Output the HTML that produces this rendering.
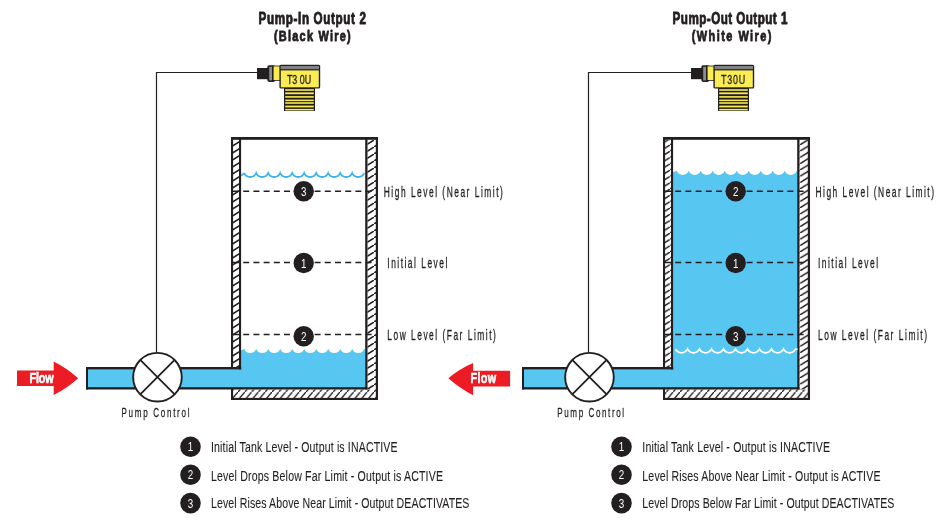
<!DOCTYPE html>
<html><head><meta charset="utf-8"><style>
html,body{margin:0;padding:0;background:#fff;width:937px;height:525px;overflow:hidden}
svg{display:block;will-change:transform;font-family:"Liberation Sans", sans-serif}
</style></head><body>
<svg width="937" height="525" viewBox="0 0 937 525">
<defs>
<pattern id="hatchL" patternUnits="userSpaceOnUse" width="11" height="7">
<path d="M-5.5,10.5 L16.5,-3.5" stroke="#231f20" stroke-width="1.5"/>
</pattern>
<pattern id="hatchR" patternUnits="userSpaceOnUse" width="10" height="6.3">
<path d="M-5,9.45 L15,-3.15" stroke="#231f20" stroke-width="1.4"/>
</pattern>
<pattern id="hatchB" patternUnits="userSpaceOnUse" width="6.8" height="8">
<path d="M-3.4,12 L10.2,-4" stroke="#231f20" stroke-width="1.4"/>
</pattern>
</defs>
<rect width="937" height="525" fill="#fff"/>
<text transform="translate(258.5,24.2) scale(0.72,1)" x="0" y="0" font-size="16.2" font-weight="bold" fill="#231f20" stroke="#231f20" stroke-width="0.9" stroke-linejoin="round" textLength="149.31" lengthAdjust="spacing">Pump-In Output 2</text>
<text transform="translate(274,41.3) scale(0.72,1)" x="0" y="0" font-size="15.2" font-weight="bold" fill="#231f20" stroke="#231f20" stroke-width="0.9" stroke-linejoin="round" textLength="106.53" lengthAdjust="spacing">(Black Wire)</text>
<path d="M257,72.5 H156.5 V352" fill="none" stroke="#231f20" stroke-width="1.2"/>
<g transform="translate(0,0)">
<rect x="284" y="88" width="31" height="23" fill="#231f20"/>
<rect x="285.2" y="89.2" width="28.6" height="1.6" fill="#faec52"/>
<rect x="285.2" y="92.4" width="28.6" height="1.8" fill="#faec52"/>
<rect x="285.2" y="96.1" width="28.6" height="1.6" fill="#faec52"/>
<rect x="285.2" y="99.6" width="28.6" height="1.5" fill="#faec52"/>
<rect x="285.2" y="102.2" width="28.6" height="1.6" fill="#faec52"/>
<rect x="285.2" y="105.6" width="28.6" height="1.8" fill="#faec52"/>
<rect x="285.2" y="108.9" width="28.6" height="1.5" fill="#faec52"/>
<rect x="257" y="68" width="11" height="11.2" fill="#231f20"/>
<rect x="267.3" y="65.3" width="8" height="16.6" rx="1.8" fill="#231f20"/>
<rect x="269.2" y="66.8" width="2.8" height="13.6" fill="#8a8c8e"/>
<rect x="272.6" y="65.6" width="9" height="15.2" fill="#231f20"/>
<rect x="273.6" y="66.4" width="6.6" height="13.6" fill="#faec52"/>
<rect x="279.4" y="64.8" width="40.8" height="23.8" rx="1.6" fill="#231f20"/>
<rect x="280.6" y="66" width="38.4" height="3.2" fill="#808285"/>
<rect x="280.8" y="70.4" width="38" height="16.9" fill="#faec52"/>
<text transform="translate(286.9,83.6) scale(0.72,1)" x="0" y="0" font-size="12.4" font-weight="normal" fill="#231f20" stroke="#231f20" stroke-width="0.3" stroke-linejoin="round" textLength="33.89" lengthAdjust="spacing">T3 0U</text>
</g>
<rect x="86" y="368" width="155" height="20.5" fill="#57c7f2"/>
<rect x="241" y="348.8" width="124.19999999999999" height="39.19999999999999" fill="#57c7f2"/>
<path d="M241,347.8 L241,350.3 A6.34,6.34 0 0 0 244.2,348.8 L244.2,348.8 A6.34,6.34 0 0 0 256.2,348.8 L256.2,348.8 A6.34,6.34 0 0 0 268.2,348.8 L268.2,348.8 A6.34,6.34 0 0 0 280.2,348.8 L280.2,348.8 A6.34,6.34 0 0 0 292.2,348.8 L292.2,348.8 A6.34,6.34 0 0 0 304.2,348.8 L304.2,348.8 A6.34,6.34 0 0 0 316.2,348.8 L316.2,348.8 A6.34,6.34 0 0 0 328.2,348.8 L328.2,348.8 A6.34,6.34 0 0 0 340.2,348.8 L340.2,348.8 A6.34,6.34 0 0 0 352.2,348.8 L352.2,348.8 A6.34,6.34 0 0 0 364.2,348.8 L364.2,348.8 A6.34,6.34 0 0 0 365.2,348.8 L365.2,347.8 Z" fill="#fff"/>
<rect x="86" y="367" width="155.2" height="2.4" fill="#231f20"/>
<rect x="86" y="387.2" width="281.5" height="2.3" fill="#231f20"/>
<rect x="86" y="367" width="2" height="22.5" fill="#231f20"/>
<rect x="233" y="140" width="6" height="227" fill="url(#hatchL)"/>
<rect x="367.5" y="140" width="8.5" height="249.5" fill="url(#hatchL)"/>
<rect x="233" y="389.5" width="143" height="8.5" fill="url(#hatchB)"/>
<rect x="231" y="137" width="147" height="2.8" fill="#231f20"/>
<rect x="231" y="137" width="2.1" height="230.5" fill="#231f20"/>
<rect x="239" y="137" width="2.1" height="232.5" fill="#231f20"/>
<rect x="365.2" y="137" width="2.3" height="252.5" fill="#231f20"/>
<rect x="375.8" y="137" width="2.2" height="263" fill="#231f20"/>
<rect x="231" y="389" width="2.1" height="11" fill="#231f20"/>
<rect x="231" y="397.9" width="147" height="2.1" fill="#231f20"/>
<path d="M244.2,173.0 A6.50,6.50 0 0 0 256.20,173.0 A6.50,6.50 0 0 0 268.20,173.0 A6.50,6.50 0 0 0 280.20,173.0 A6.50,6.50 0 0 0 292.20,173.0 A6.50,6.50 0 0 0 304.20,173.0 A6.50,6.50 0 0 0 316.20,173.0 A6.50,6.50 0 0 0 328.20,173.0 A6.50,6.50 0 0 0 340.20,173.0 A6.50,6.50 0 0 0 352.20,173.0 A6.50,6.50 0 0 0 364.20,173.0" fill="none" stroke="#3ab3ea" stroke-width="1.8"/><path d="M241,175.5 A6.8,6.8 0 0 0 244.2,173.0" fill="none" stroke="#3ab3ea" stroke-width="1.8"/>
<line x1="233" y1="191.3" x2="373" y2="191.3" stroke="#231f20" stroke-width="1.5" stroke-dasharray="6 4.2"/>
<line x1="233" y1="262.6" x2="373" y2="262.6" stroke="#231f20" stroke-width="1.5" stroke-dasharray="6 4.2"/>
<line x1="233" y1="334.4" x2="373" y2="334.4" stroke="#231f20" stroke-width="1.5" stroke-dasharray="6 4.2"/>
<circle cx="303.7" cy="191.2" r="10.2" fill="#231f20"/>
<text transform="translate(303.7,195.7) scale(0.78,1)" font-size="12.6" fill="#fff" text-anchor="middle">3</text>
<circle cx="303.7" cy="263" r="10.2" fill="#231f20"/>
<text transform="translate(303.7,267.5) scale(0.78,1)" font-size="12.6" fill="#fff" text-anchor="middle">1</text>
<circle cx="303.7" cy="336.2" r="10.2" fill="#231f20"/>
<text transform="translate(303.7,340.7) scale(0.78,1)" font-size="12.6" fill="#fff" text-anchor="middle">2</text>
<text transform="translate(383.8,196.6) scale(0.6,1)" x="0" y="0" font-size="14.0" font-weight="normal" fill="#231f20" stroke="#231f20" stroke-width="0.3" stroke-linejoin="round" textLength="198.33" lengthAdjust="spacing">High Level (Near Limit)</text>
<text transform="translate(387.3,268.1) scale(0.6,1)" x="0" y="0" font-size="14.0" font-weight="normal" fill="#231f20" stroke="#231f20" stroke-width="0.3" stroke-linejoin="round" textLength="100.00" lengthAdjust="spacing">Initial Level</text>
<text transform="translate(387.3,340) scale(0.6,1)" x="0" y="0" font-size="14.0" font-weight="normal" fill="#231f20" stroke="#231f20" stroke-width="0.3" stroke-linejoin="round" textLength="180.83" lengthAdjust="spacing">Low Level (Far Limit)</text>
<circle cx="157.45" cy="377.2" r="24.3" fill="#fff" stroke="#231f20" stroke-width="1.9"/>
<path d="M140.4796,360.2296 L174.42039999999997,394.1704 M174.42039999999997,360.2296 L140.4796,394.1704" stroke="#231f20" stroke-width="1.8"/>
<text transform="translate(121.5,416.9) scale(0.62,1)" x="0" y="0" font-size="13" font-weight="normal" fill="#231f20" stroke="#231f20" stroke-width="0.25" stroke-linejoin="round" textLength="109.68" lengthAdjust="spacing">Pump Control</text>
<path d="M17,370.5 H53.7 V361.4 Q67.1,368.15 78.2,378.2 Q67.1,388.25 53.7,395 V386 H17 Z" fill="#ed1c24"/><text transform="translate(29.6,382.6) scale(0.78,1)" x="0" y="0" font-size="13.8" font-weight="bold" fill="#fff" stroke="#fff" stroke-width="0.6" stroke-linejoin="round" textLength="30.77" lengthAdjust="spacing">Flow</text>
<text transform="translate(672.6,24.2) scale(0.72,1)" x="0" y="0" font-size="16.2" font-weight="bold" fill="#231f20" stroke="#231f20" stroke-width="0.9" stroke-linejoin="round" textLength="159.44" lengthAdjust="spacing">Pump-Out Output 1</text>
<text transform="translate(691.7,41.3) scale(0.72,1)" x="0" y="0" font-size="15.2" font-weight="bold" fill="#231f20" stroke="#231f20" stroke-width="0.9" stroke-linejoin="round" textLength="110.83" lengthAdjust="spacing">(White Wire)</text>
<path d="M691,72.5 H588.5 V352" fill="none" stroke="#231f20" stroke-width="1.2"/>
<g transform="translate(434,0)">
<rect x="284" y="88" width="31" height="23" fill="#231f20"/>
<rect x="285.2" y="89.2" width="28.6" height="1.6" fill="#faec52"/>
<rect x="285.2" y="92.4" width="28.6" height="1.8" fill="#faec52"/>
<rect x="285.2" y="96.1" width="28.6" height="1.6" fill="#faec52"/>
<rect x="285.2" y="99.6" width="28.6" height="1.5" fill="#faec52"/>
<rect x="285.2" y="102.2" width="28.6" height="1.6" fill="#faec52"/>
<rect x="285.2" y="105.6" width="28.6" height="1.8" fill="#faec52"/>
<rect x="285.2" y="108.9" width="28.6" height="1.5" fill="#faec52"/>
<rect x="257" y="68" width="11" height="11.2" fill="#231f20"/>
<rect x="267.3" y="65.3" width="8" height="16.6" rx="1.8" fill="#231f20"/>
<rect x="269.2" y="66.8" width="2.8" height="13.6" fill="#8a8c8e"/>
<rect x="272.6" y="65.6" width="9" height="15.2" fill="#231f20"/>
<rect x="273.6" y="66.4" width="6.6" height="13.6" fill="#faec52"/>
<rect x="279.4" y="64.8" width="40.8" height="23.8" rx="1.6" fill="#231f20"/>
<rect x="280.6" y="66" width="38.4" height="3.2" fill="#808285"/>
<rect x="280.8" y="70.4" width="38" height="16.9" fill="#faec52"/>
<text transform="translate(286.9,83.6) scale(0.72,1)" x="0" y="0" font-size="12.4" font-weight="normal" fill="#231f20" stroke="#231f20" stroke-width="0.3" stroke-linejoin="round" textLength="33.89" lengthAdjust="spacing">T30U</text>
</g>
<rect x="522" y="368" width="151" height="20.5" fill="#57c7f2"/>
<rect x="673" y="170.6" width="124.20000000000005" height="217.4" fill="#57c7f2"/>
<path d="M673,169.6 L673,172.1 A6.34,6.34 0 0 0 676.7,170.6 L676.7,170.6 A6.34,6.34 0 0 0 688.7,170.6 L688.7,170.6 A6.34,6.34 0 0 0 700.7,170.6 L700.7,170.6 A6.34,6.34 0 0 0 712.7,170.6 L712.7,170.6 A6.34,6.34 0 0 0 724.7,170.6 L724.7,170.6 A6.34,6.34 0 0 0 736.7,170.6 L736.7,170.6 A6.34,6.34 0 0 0 748.7,170.6 L748.7,170.6 A6.34,6.34 0 0 0 760.7,170.6 L760.7,170.6 A6.34,6.34 0 0 0 772.7,170.6 L772.7,170.6 A6.34,6.34 0 0 0 784.7,170.6 L784.7,170.6 A6.34,6.34 0 0 0 796.7,170.6 L796.7,170.6 A6.34,6.34 0 0 0 797.2,170.6 L797.2,169.6 Z" fill="#fff"/>
<rect x="522" y="367" width="151.20000000000005" height="2.4" fill="#231f20"/>
<rect x="522" y="387.2" width="277.5" height="2.3" fill="#231f20"/>
<rect x="522" y="367" width="2" height="22.5" fill="#231f20"/>
<rect x="665" y="140" width="6" height="227" fill="url(#hatchR)"/>
<rect x="799.5" y="140" width="8.5" height="249.5" fill="url(#hatchR)"/>
<rect x="665" y="389.5" width="143" height="8.5" fill="url(#hatchB)"/>
<rect x="663" y="137" width="147" height="2.8" fill="#231f20"/>
<rect x="663" y="137" width="2.1" height="230.5" fill="#231f20"/>
<rect x="671" y="137" width="2.1" height="232.5" fill="#231f20"/>
<rect x="797.2" y="137" width="2.3" height="252.5" fill="#231f20"/>
<rect x="807.8" y="137" width="2.2" height="263" fill="#231f20"/>
<rect x="663" y="389" width="2.1" height="11" fill="#231f20"/>
<rect x="663" y="397.9" width="147" height="2.1" fill="#231f20"/>
<path d="M675.5,349.2 A6.80,6.80 0 0 0 687.50,349.2 A6.80,6.80 0 0 0 699.50,349.2 A6.80,6.80 0 0 0 711.50,349.2 A6.80,6.80 0 0 0 723.50,349.2 A6.80,6.80 0 0 0 735.50,349.2 A6.80,6.80 0 0 0 747.50,349.2 A6.80,6.80 0 0 0 759.50,349.2 A6.80,6.80 0 0 0 771.50,349.2 A6.80,6.80 0 0 0 783.50,349.2 A6.80,6.80 0 0 0 795.50,349.2 A6.80,6.80 0 0 0 797.50,349.2" fill="none" stroke="#fff" stroke-width="1.8"/>
<line x1="665" y1="191.3" x2="805" y2="191.3" stroke="#231f20" stroke-width="1.5" stroke-dasharray="6 4.2"/>
<line x1="665" y1="262.6" x2="805" y2="262.6" stroke="#231f20" stroke-width="1.5" stroke-dasharray="6 4.2"/>
<line x1="665" y1="334.4" x2="805" y2="334.4" stroke="#231f20" stroke-width="1.5" stroke-dasharray="6 4.2"/>
<circle cx="735.7" cy="191.2" r="10.2" fill="#231f20"/>
<text transform="translate(735.7,195.7) scale(0.78,1)" font-size="12.6" fill="#fff" text-anchor="middle">2</text>
<circle cx="735.7" cy="263" r="10.2" fill="#231f20"/>
<text transform="translate(735.7,267.5) scale(0.78,1)" font-size="12.6" fill="#fff" text-anchor="middle">1</text>
<circle cx="735.7" cy="336.2" r="10.2" fill="#231f20"/>
<text transform="translate(735.7,340.7) scale(0.78,1)" font-size="12.6" fill="#fff" text-anchor="middle">3</text>
<text transform="translate(815.5,196.6) scale(0.6,1)" x="0" y="0" font-size="14.0" font-weight="normal" fill="#231f20" stroke="#231f20" stroke-width="0.3" stroke-linejoin="round" textLength="197.50" lengthAdjust="spacing">High Level (Near Limit)</text>
<text transform="translate(818,268.1) scale(0.6,1)" x="0" y="0" font-size="14.0" font-weight="normal" fill="#231f20" stroke="#231f20" stroke-width="0.3" stroke-linejoin="round" textLength="100.00" lengthAdjust="spacing">Initial Level</text>
<text transform="translate(818,340) scale(0.6,1)" x="0" y="0" font-size="14.0" font-weight="normal" fill="#231f20" stroke="#231f20" stroke-width="0.3" stroke-linejoin="round" textLength="181.67" lengthAdjust="spacing">Low Level (Far Limit)</text>
<circle cx="589.45" cy="377.2" r="24.3" fill="#fff" stroke="#231f20" stroke-width="1.9"/>
<path d="M572.4796,360.2296 L606.4204000000001,394.1704 M606.4204000000001,360.2296 L572.4796,394.1704" stroke="#231f20" stroke-width="1.8"/>
<text transform="translate(557.3,416.9) scale(0.62,1)" x="0" y="0" font-size="13" font-weight="normal" fill="#231f20" stroke="#231f20" stroke-width="0.25" stroke-linejoin="round" textLength="107.74" lengthAdjust="spacing">Pump Control</text>
<path d="M510.1,370.8 H473.1 V362.9 Q459.6,368.65 448.3,378.2 Q459.5,388.1 473.1,395.2 V386.5 H510.1 Z" fill="#ed1c24"/><text transform="translate(470.4,382.6) scale(0.78,1)" x="0" y="0" font-size="13.8" font-weight="bold" fill="#fff" stroke="#fff" stroke-width="0.6" stroke-linejoin="round" textLength="33.08" lengthAdjust="spacing">Flow</text>
<circle cx="190.5" cy="446.8" r="10.3" fill="#231f20"/>
<text transform="translate(190.5,451.3) scale(0.78,1)" font-size="12.6" fill="#fff" text-anchor="middle">1</text>
<text transform="translate(211,452) scale(0.74,1)" x="0" y="0" font-size="14.3" font-weight="normal" fill="#231f20" stroke="#231f20" stroke-width="0.1" stroke-linejoin="round" textLength="252.16" lengthAdjust="spacing">Initial Tank Level - Output is INACTIVE</text>
<circle cx="190.5" cy="474.8" r="10.3" fill="#231f20"/>
<text transform="translate(190.5,479.3) scale(0.78,1)" font-size="12.6" fill="#fff" text-anchor="middle">2</text>
<text transform="translate(211,480.8) scale(0.74,1)" x="0" y="0" font-size="14.3" font-weight="normal" fill="#231f20" stroke="#231f20" stroke-width="0.1" stroke-linejoin="round" textLength="313.51" lengthAdjust="spacing">Level Drops Below Far Limit - Output is ACTIVE</text>
<circle cx="190.5" cy="503.1" r="10.3" fill="#231f20"/>
<text transform="translate(190.5,507.6) scale(0.78,1)" font-size="12.6" fill="#fff" text-anchor="middle">3</text>
<text transform="translate(211,508.2) scale(0.74,1)" x="0" y="0" font-size="14.3" font-weight="normal" fill="#231f20" stroke="#231f20" stroke-width="0.1" stroke-linejoin="round" textLength="349.19" lengthAdjust="spacing">Level Rises Above Near Limit - Output DEACTIVATES</text>
<circle cx="621.5" cy="446.8" r="10.3" fill="#231f20"/>
<text transform="translate(621.5,451.3) scale(0.78,1)" font-size="12.6" fill="#fff" text-anchor="middle">1</text>
<text transform="translate(642.3,452) scale(0.74,1)" x="0" y="0" font-size="14.3" font-weight="normal" fill="#231f20" stroke="#231f20" stroke-width="0.1" stroke-linejoin="round" textLength="253.65" lengthAdjust="spacing">Initial Tank Level - Output is INACTIVE</text>
<circle cx="621.5" cy="474.8" r="10.3" fill="#231f20"/>
<text transform="translate(621.5,479.3) scale(0.78,1)" font-size="12.6" fill="#fff" text-anchor="middle">2</text>
<text transform="translate(642.3,480.8) scale(0.74,1)" x="0" y="0" font-size="14.3" font-weight="normal" fill="#231f20" stroke="#231f20" stroke-width="0.1" stroke-linejoin="round" textLength="321.89" lengthAdjust="spacing">Level Rises Above Near Limit - Output is ACTIVE</text>
<circle cx="621.5" cy="503.1" r="10.3" fill="#231f20"/>
<text transform="translate(621.5,507.6) scale(0.78,1)" font-size="12.6" fill="#fff" text-anchor="middle">3</text>
<text transform="translate(642.3,508.2) scale(0.74,1)" x="0" y="0" font-size="14.3" font-weight="normal" fill="#231f20" stroke="#231f20" stroke-width="0.1" stroke-linejoin="round" textLength="340.68" lengthAdjust="spacing">Level Drops Below Far Limit - Output DEACTIVATES</text>
</svg>
</body></html>
